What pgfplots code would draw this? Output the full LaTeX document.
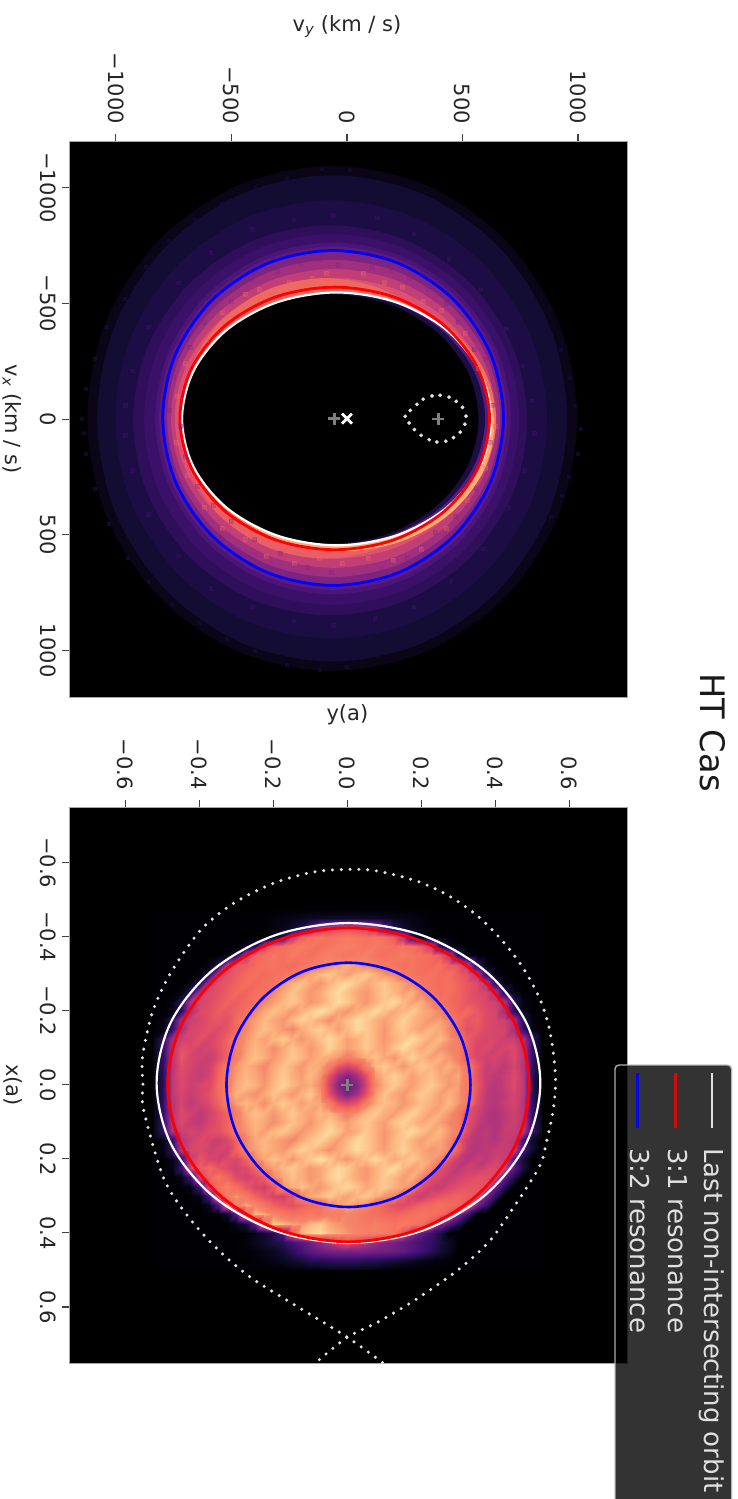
\documentclass[border=0pt]{standalone}
\usepackage{pgfplots}
\pgfplotsset{compat=1.18}
\usepackage{pgfplotstable}
\usepackage{fontspec}
\setmainfont{DejaVu Sans}
\definecolor{m0}{HTML}{0A0618}
\definecolor{m1}{HTML}{130C33}
\definecolor{m15}{HTML}{1C0E44}
\definecolor{m2}{HTML}{2F0F5A}
\definecolor{m25}{HTML}{3A1068}
\definecolor{m3}{HTML}{4A1478}
\definecolor{m35}{HTML}{5C1A7C}
\definecolor{m4}{HTML}{7D2481}
\definecolor{m5}{HTML}{A0307E}
\definecolor{m6}{HTML}{C23F76}
\definecolor{m7}{HTML}{DC5070}
\definecolor{cora}{HTML}{EE6A60}
\definecolor{corb}{HTML}{EA5F66}
\definecolor{corc}{HTML}{F6705C}
\definecolor{peach}{HTML}{FDAE78}
\definecolor{lg}{HTML}{E4E4E4}
\newcommand{\tf}{\fontsize{21bp}{25bp}\selectfont}
\pgfplotstableread{
x y
-380 -560
-250 -590
-150 -610
-90 -630
0 -600
70 -630
160 -590
240 -570
330 -510
410 -470
510 -370
570 -220
610 -150
640 30
600 210
520 350
430 470
320 560
200 610
90 600
-20 620
-120 600
-230 620
-350 590
-440 520
-540 470
-620 380
-690 240
-740 100
-735 -100
-700 -240
-610 -340
-540 -460
-440 -540
}\bandlight
\pgfplotstableread{
x y
-300 -640
-200 -670
-120 -690
-40 -665
40 -700
110 -655
190 -640
270 -610
350 -560
430 -500
480 -420
550 -300
600 -260
630 -60
620 100
560 300
470 420
380 490
260 600
150 650
30 680
-70 660
-170 640
-290 580
-400 520
-500 440
-580 370
-650 290
-700 160
-720 30
-770 -40
-750 -180
-680 -310
-620 -420
-500 -510
-410 -600
}\banddark
% the binned map of the lower panel, one \R per row, values read in percent of the colour scale
\makeatletter
\newcount\Rj \Rj=0
\newcount\Rc
\newcount\Rn
\newcount\Rs
\newdimen\Rx
\newdimen\Ry
\def\Hdata{}
\def\Hpoint#1{%
  \Rx=.025pt \multiply\Rx by \numexpr\Rc-21\relax
  \xdef\Hdata{\unexpanded\expandafter{\Hdata}(\strip@pt\Rx,\strip@pt\Ry)[#1]}%
  \global\advance\Rc by 1 }
\def\R#1{%
  \Rn=0 \@for\@v:=#1\do{\advance\Rn by 1 }%
  \Rs=\numexpr(43-\Rn)/2\relax
  \Ry=.025pt \multiply\Ry by \numexpr\Rj-19\relax
  \Rc=0
  \loop\ifnum\Rc<\Rs \Hpoint{0}\repeat
  \@for\@v:=#1\do{\ifnum\Rc<43 \Hpoint{\@v}\fi}%
  \loop\ifnum\Rc<43 \Hpoint{0}\repeat
  \global\advance\Rj by 1 }
\makeatother
\R{0}
\R{2,3,4,5,6,7,7,8,8,8,7,7,6,5,4,3,2}
\R{2,4,8,14,30,48,56,60,62,60,56,48,30,14,8,4,2}
\R{4,16,50,66,72,74,72,74,76,74,72,74,72,66,50,16,4}
\R{4,16,54,66,72,74,76,74,72,74,76,78,76,74,76,74,72,74,72,66,54,16,4}
\R{3,16,52,68,72,74,72,76,74,72,76,78,76,74,76,78,74,72,74,76,74,72,70,66,52,16,3}
\R{3,16,52,64,66,70,72,74,72,70,74,76,78,80,83,85,82,80,78,76,74,72,74,72,70,72,66,64,52,16,3}
\R{3,16,50,62,66,70,72,70,72,74,76,80,84,86,88,85,83,86,88,85,82,80,76,74,72,74,70,72,66,62,50,16,3}
\R{3,16,50,62,64,68,72,70,72,74,82,85,87,84,82,85,88,90,87,84,86,88,85,83,80,74,72,70,72,68,64,60,50,16,3}
\R{3,16,48,60,62,66,70,68,72,74,80,84,87,85,82,84,88,90,87,84,82,85,88,86,83,85,80,74,70,72,68,64,60,58,48,16,3}
\R{3,16,48,58,60,64,68,66,70,74,80,83,86,88,85,82,84,87,90,88,84,82,85,88,90,86,83,85,80,74,70,68,64,62,58,56,48,16,3}
\R{3,16,46,60,62,66,64,68,72,80,84,87,85,82,85,88,91,88,84,82,85,87,90,87,84,86,88,85,83,80,72,68,70,64,60,58,46,16,3}
\R{3,16,46,56,58,62,64,62,70,80,83,86,84,82,86,89,87,84,81,84,87,90,88,85,83,86,89,86,84,82,83,80,70,64,66,60,58,56,46,16,3}
\R{3,18,46,58,60,62,60,64,70,80,84,87,85,82,80,84,87,89,86,83,86,90,88,85,82,86,88,85,83,86,84,80,70,62,64,60,58,58,46,18,3}
\R{3,18,46,56,58,62,58,62,68,78,82,85,83,86,88,85,82,84,87,90,87,83,85,88,85,82,85,88,90,87,84,86,82,78,66,60,58,58,56,56,46,18,3}
\R{3,18,50,62,60,56,58,62,68,78,83,86,84,81,84,87,85,82,85,89,86,83,85,88,85,83,87,90,87,84,86,82,80,78,66,58,60,56,58,60,50,18,3}
\R{3,18,50,64,58,56,54,60,68,78,84,87,85,82,85,88,86,83,85,84,82,78,82,85,87,84,82,86,89,86,83,85,82,78,66,58,56,58,54,60,50,18,3}
\R{3,18,50,62,58,54,56,66,76,82,85,83,80,84,87,85,82,85,84,78,64,58,64,78,86,88,85,82,85,88,86,83,85,82,76,64,54,56,52,58,50,18,3}
\R{3,16,52,60,56,54,58,68,78,83,86,84,81,85,88,85,83,86,82,62,46,36,46,62,82,86,89,86,83,85,87,84,82,84,76,62,54,52,54,60,52,16,3}
\R{3,16,52,60,56,58,60,70,78,84,87,85,82,86,89,86,83,85,80,58,38,30,38,58,80,85,88,85,83,86,88,85,82,83,76,64,54,50,54,60,52,16,3}
\R{3,16,52,58,54,58,62,70,80,85,83,81,84,87,85,82,85,88,82,62,46,36,46,62,82,87,84,82,85,88,86,83,85,82,76,62,52,50,52,58,52,16,3}
\R{3,18,50,58,52,56,60,68,78,83,86,84,81,85,88,86,83,85,84,78,64,58,64,78,84,87,85,82,84,87,85,83,86,82,76,60,52,50,54,58,50,18,4}
\R{3,18,50,60,56,52,56,62,68,78,84,87,85,82,85,88,85,83,86,85,82,78,82,86,88,85,83,86,89,86,83,85,82,76,62,56,50,48,52,56,50,18,5}
\R{3,18,50,60,54,52,58,62,68,78,83,86,84,81,84,87,85,82,85,88,85,83,86,88,85,83,87,89,86,84,86,83,80,76,62,54,50,48,52,56,50,18,6}
\R{3,18,48,56,58,56,60,62,68,78,82,85,83,86,88,85,82,84,87,90,87,83,85,88,85,82,85,88,90,87,84,86,82,78,60,50,52,48,54,54,50,20,8}
\R{3,18,50,56,60,58,54,58,68,80,84,86,84,82,80,84,87,89,86,83,86,90,88,85,82,86,88,85,83,85,84,80,66,54,50,52,50,54,52,22,8}
\R{3,18,50,58,60,56,58,56,68,80,83,86,84,82,86,89,87,84,81,84,87,90,88,85,83,86,89,86,84,82,83,80,66,52,50,52,54,54,52,24,8}
\R{3,18,54,64,58,56,60,58,68,80,84,87,85,82,85,88,91,88,84,82,85,87,90,87,84,86,88,85,83,80,64,54,50,54,52,56,54,26,10}
\R{3,20,56,66,70,64,60,56,60,68,80,83,86,88,85,82,84,87,90,88,84,82,85,88,90,86,83,85,80,62,56,52,56,54,58,60,56,28,12}
\R{3,20,58,68,74,68,60,56,60,66,80,84,87,85,82,84,88,90,87,84,82,85,88,86,83,85,80,62,58,54,56,60,62,62,58,30,14}
\R{3,22,62,72,78,72,64,58,56,64,82,85,87,84,82,85,88,90,87,84,86,88,85,83,80,62,56,54,58,62,64,64,60,32,16}
\R{4,24,66,76,82,76,68,62,58,56,64,80,84,86,88,85,83,86,88,85,82,80,66,58,54,60,64,66,68,66,62,34,18}
\R{5,26,68,78,84,80,74,68,64,62,66,70,72,80,83,85,82,80,72,68,62,60,64,68,70,72,70,68,64,36,20}
\R{6,28,70,86,84,80,76,72,74,76,74,78,76,80,78,74,72,70,68,70,72,74,72,70,64,38,22}
\R{4,10,30,72,88,86,84,82,86,88,84,82,80,78,76,78,76,74,76,74,72,62,38,26,14}
\R{4,8,14,26,66,86,88,90,86,84,82,80,78,78,76,74,62,42,30,20,12}
\R{2,5,8,12,16,22,28,34,40,48,56,62,56,50,44,38,34,30,26,22,18,12,6}
\R{1,2,4,6,10,16,22,28,32,34,36,36,36,36,34,34,32,30,26,22,16,10,6}
\R{1,2,3,5,8,10,14,14,16,16,16,16,14,14,12,10,8,6,4,2,1}
\R{1,2,3,4,4,4,3,2,1}
\pgfplotsset{
  panel/.style={
    at={#1}, anchor=north west, scale only axis,
    width=558bp, height=556bp, y dir=reverse,
    axis background/.style={fill=black},
    xtick pos=upper, ytick pos=lower,
    tick align=outside, major tick length=7bp,
    tick style={color=black!75,line width=1.1bp},
    axis line style={draw=gray!70,line width=1bp},
    xticklabel style={rotate=-90,anchor=east,font=\tf,text=black!85,inner ysep=2bp,inner xsep=10bp},
    yticklabel style={rotate=-90,anchor=north,font=\tf,text=black!85,inner xsep=2bp,inner ysep=6bp},
    xlabel style={font=\tf,anchor=center,text=black!85},
    ylabel style={font=\tf,anchor=center,rotate=180,text=black!85},
    scaled ticks=false,
  },
  ar/.style={fill=#1,draw=none,smooth cycle,tension=0.55,forget plot,mark=none},
  cu/.style={draw=#1,fill=none,smooth cycle,tension=0.55,forget plot,mark=none},
}
\begin{document}
\begin{tikzpicture}
\path[use as bounding box] (0,0) rectangle (738bp,-1499bp);
\begin{axis}[panel={(69bp,-141bp)},
  xmin=-1203,xmax=1212,ymin=-1201,ymax=1200,
  xtick={-1000,-500,0,500,1000},xticklabels={−1000,−500,0,500,1000},
  ytick={-1000,-500,0,500,1000},yticklabels={−1000,−500,0,500,1000},
  xlabel={v\textsubscript{\itshape y} (km / s)},
  ylabel={v\textsubscript{\itshape x} (km / s)},
  xlabel style={at={(axis cs:0,-1695)}},
  ylabel style={at={(axis cs:-1449,0)}},
]
\addplot[ar=m0] coordinates {(996,-3)(915,414)(685,768)(342,1004)(-64,1087)(-470,1004)(-813,768)(-1043,414)(-1124,-3)(-1043,-420)(-813,-774)(-470,-1010)(-64,-1093)(342,-1010)(685,-774)(915,-420)};
\addplot[ar=m1] coordinates {(953,-3)(876,399)(655,739)(326,967)(-64,1047)(-454,967)(-783,739)(-1004,399)(-1081,-3)(-1004,-405)(-783,-745)(-454,-973)(-64,-1053)(326,-973)(655,-745)(876,-405)};
\addplot[only marks,mark=square*,mark size=1.5bp,color=m1,opacity=.8,forget plot] coordinates {(1010,40)(985,-60)(1000,150)(960,250)(965,-180)(930,330)(925,-300)(880,420)(860,-420)(800,530)(810,-500)(740,620)(700,-620)(640,700)(640,-690)(560,770)(540,-780)(470,840)(470,-840)(360,900)(370,-890)(250,960)(250,-960)(120,1000)(140,-1000)(0,1070)(10,-1075)(-120,1080)(-110,-1080)(-260,1060)(-260,-1040)(-400,1000)(-400,-1000)(-520,950)(-540,-930)(-640,880)(-660,-860)(-760,800)(-770,-770)(-860,700)(-870,-660)(-950,600)(-960,-520)(-1030,450)(-1040,-400)(-1090,300)(-1090,-260)(-1130,150)(-1130,-130)(-1150,0)(-1140,60)};
\addplot[ar=m15] coordinates {(866,1)(795,363)(592,670)(290,875)(-68,947)(-427,875)(-730,670)(-932,363)(-1003,1)(-932,-361)(-730,-668)(-427,-873)(-68,-945)(290,-873)(592,-668)(795,-361)};
\addplot[ar=m2] coordinates {(780,5)(715,327)(530,600)(254,783)(-73,847)(-400,783)(-676,600)(-861,327)(-926,5)(-861,-317)(-676,-590)(-400,-773)(-73,-837)(254,-773)(530,-590)(715,-317)};
\addplot[only marks,mark=square*,mark size=1.7bp,color=m2,opacity=.8,forget plot] coordinates {(810,60)(800,-80)(770,220)(760,-230)(700,380)(690,-390)(590,560)(580,-560)(450,700)(440,-690)(290,810)(290,-800)(120,860)(130,-870)(-60,890)(-60,-880)(-230,870)(-230,-860)(-410,810)(-410,-820)(-590,730)(-590,-720)(-730,590)(-730,-590)(-860,410)(-860,-400)(-930,220)(-930,-210)(-960,70)(-960,-60)};
\addplot[ar=m25] coordinates {(745,1)(683,307)(507,567)(244,741)(-66,802)(-377,741)(-640,567)(-816,307)(-878,1)(-816,-305)(-640,-565)(-377,-739)(-66,-800)(244,-739)(507,-565)(683,-305)};
\addplot[ar=m3] coordinates {(710,-3)(651,288)(484,534)(235,699)(-60,757)(-355,699)(-604,534)(-771,288)(-830,-3)(-771,-294)(-604,-540)(-355,-705)(-60,-763)(235,-705)(484,-540)(651,-294)};
\addplot[ar=m35] coordinates {(693,-4)(636,280)(472,520)(228,681)(-60,737)(-348,681)(-592,520)(-756,280)(-813,-4)(-756,-288)(-592,-528)(-348,-689)(-60,-745)(228,-689)(472,-528)(636,-288)};
\addplot[ar=m4] coordinates {(677,-5)(621,272)(461,506)(222,663)(-60,718)(-342,663)(-581,506)(-741,272)(-797,-5)(-741,-282)(-581,-516)(-342,-673)(-60,-728)(222,-673)(461,-516)(621,-282)};
\addplot[ar=m5] coordinates {(663,-3)(608,259)(452,481)(218,630)(-58,682)(-334,630)(-568,481)(-724,259)(-779,-3)(-724,-265)(-568,-487)(-334,-636)(-58,-688)(218,-636)(452,-487)(608,-265)};
\addplot[ar=m6] coordinates {(646,-3)(592,244)(440,453)(212,593)(-58,642)(-328,593)(-556,453)(-708,244)(-762,-3)(-708,-250)(-556,-459)(-328,-599)(-58,-648)(212,-599)(440,-459)(592,-250)};
\addplot[ar=m7] coordinates {(629,-3)(577,229)(428,425)(205,557)(-58,603)(-321,557)(-544,425)(-693,229)(-745,-3)(-693,-235)(-544,-431)(-321,-563)(-58,-609)(205,-563)(428,-431)(577,-235)};
\addplot[ar=cora] coordinates {(525,-23)(478,201)(344,391)(143,518)(-94,563)(-331,518)(-532,391)(-666,201)(-713,-23)(-666,-247)(-532,-437)(-331,-564)(-94,-609)(143,-564)(344,-437)(478,-247)};
\addplot[ar=corb] coordinates {(525,27)(478,247)(344,434)(143,558)(-94,602)(-331,558)(-532,434)(-666,247)(-713,27)(-666,-193)(-532,-380)(-331,-504)(-94,-548)(143,-504)(344,-380)(478,-193)};
\addplot[ar=corc] coordinates {(646,5)(594,220)(446,402)(224,524)(-38,567)(-300,524)(-522,402)(-670,220)(-722,5)(-670,-210)(-522,-392)(-300,-514)(-38,-557)(224,-514)(446,-392)(594,-210)};
\addplot[ar=peach] coordinates {(637,22)(587,232)(444,410)(231,529)(-21,571)(-273,529)(-486,410)(-629,232)(-679,22)(-629,-188)(-486,-366)(-273,-485)(-21,-527)(231,-485)(444,-366)(587,-188)};
\addplot[only marks,mark=square*,mark size=2bp,color=cora,opacity=.3,forget plot] table {\bandlight};
\addplot[only marks,mark=square*,mark size=2bp,color=m4,opacity=.3,forget plot] table {\banddark};
\addplot[ar=m35] coordinates {(624,-1)(573,208)(428,385)(211,503)(-45,545)(-301,503)(-518,385)(-663,208)(-714,-1)(-663,-210)(-518,-387)(-301,-505)(-45,-547)(211,-505)(428,-387)(573,-210)};
\addplot[ar=m15] coordinates {(598,-3)(548,205)(406,382)(193,500)(-58,541)(-309,500)(-522,382)(-664,205)(-714,-3)(-664,-211)(-522,-388)(-309,-506)(-58,-547)(193,-506)(406,-388)(548,-211)};
\addplot[ar=black] coordinates {(569,-1)(521,205)(382,379)(176,496)(-68,537)(-312,496)(-518,379)(-657,205)(-705,-1)(-657,-207)(-518,-381)(-312,-498)(-68,-539)(176,-498)(382,-381)(521,-207)};
\addplot[cu=white,line width=2.2bp] coordinates {(624,-1)(573,208)(428,385)(211,503)(-45,545)(-301,503)(-518,385)(-663,208)(-714,-1)(-663,-210)(-518,-387)(-301,-505)(-45,-547)(211,-505)(428,-387)(573,-210)};
\addplot[cu=red,line width=2.8bp] coordinates {(617,-3)(566,214)(421,398)(204,521)(-53,564)(-310,521)(-527,398)(-672,214)(-723,-3)(-672,-220)(-527,-404)(-310,-527)(-53,-570)(204,-527)(421,-404)(566,-220)};
\addplot[cu=blue,line width=2.8bp] coordinates {(677,-5)(621,272)(461,506)(222,663)(-60,718)(-342,663)(-581,506)(-741,272)(-797,-5)(-741,-282)(-581,-516)(-342,-673)(-60,-728)(222,-673)(461,-516)(621,-282)};
\addplot[only marks,mark=*,mark size=1.7bp,color=lg,forget plot] coordinates {(252,-12)(274,-38)(303,-64)(330,-86)(368,-100)(403,-103)(442,-95)(473,-77)(500,-51)(515,-13)(510,22)(490,56)(461,80)(428,95)(389,99)(356,89)(321,70)(292,45)(269,17)};
\addplot[only marks,mark=+,mark size=6bp,color=gray,line width=2.4bp,forget plot] coordinates {(-54,-2)(396,0)};
\addplot[only marks,mark=x,mark size=7bp,color=white,line width=2.8bp,forget plot] coordinates {(0,-2)};
\end{axis}
\begin{axis}[panel={(69bp,-807bp)},
  xmin=-0.753,xmax=0.7565,ymin=-0.7505,ymax=0.7514,
  xtick={-0.6,-0.4,-0.2,0,0.2,0.4,0.6},xticklabels={−0.6,−0.4,−0.2,0.0,0.2,0.4,0.6},
  ytick={-0.6,-0.4,-0.2,0,0.2,0.4,0.6},yticklabels={−0.6,−0.4,−0.2,0.0,0.2,0.4,0.6},
  xlabel={y(a)},ylabel={x(a)},
  xlabel style={at={(axis cs:0,-0.999)}},
  ylabel style={at={(axis cs:-0.905,0)}},
  colormap={magmastretch}{rgb255(0)=(0,0,4) rgb255(10)=(20,14,54) rgb255(20)=(59,15,112) rgb255(30)=(100,26,128) rgb255(40)=(140,41,129) rgb255(50)=(181,54,122) rgb255(60)=(222,73,104) rgb255(70)=(244,106,92) rgb255(76)=(247,122,98) rgb255(80)=(243,134,104) rgb255(85)=(252,176,124) rgb255(90)=(254,218,158) rgb255(100)=(252,253,191)},
  point meta min=0,point meta max=100,
]
\edef\Hplot{\noexpand\addplot[surf,shader=interp,mesh/rows=40,mesh/cols=43,point meta=explicit,forget plot] coordinates {\unexpanded\expandafter{\Hdata}};}
\Hplot
\addplot[cu=white,line width=2.2bp] coordinates {(.522,-.005)(.483,.160)(.370,.300)(.202,.394)(.003,.427)(-.196,.394)(-.364,.300)(-.477,.160)(-.516,-.005)(-.477,-.170)(-.364,-.310)(-.196,-.404)(.003,-.437)(.202,-.404)(.370,-.310)(.483,-.170)};
\addplot[cu=red,line width=2.8bp] coordinates {(.492,0)(.455,.162)(.349,.300)(.190,.392)(.003,.424)(-.184,.392)(-.343,.300)(-.449,.162)(-.486,0)(-.449,-.162)(-.343,-.300)(-.184,-.392)(.003,-.424)(.190,-.392)(.349,-.300)(.455,-.162)};
\addplot[cu=blue,line width=2.6bp] coordinates {(.333,0)(.308,.126)(.236,.233)(.129,.305)(.003,.33)(-.123,.305)(-.230,.233)(-.302,.126)(-.327,0)(-.302,-.126)(-.230,-.233)(-.123,-.305)(.003,-.33)(.129,-.305)(.236,-.233)(.308,-.126)};
\addplot[draw=lg,smooth,tension=.5,line width=3.4bp,line cap=round,dash pattern=on 0pt off 8.8bp,forget plot,mark=none] coordinates {(.095,.75)(0,.682)(-.127,.604)(-.259,.522)(-.348,.447)(-.429,.358)(-.497,.252)(-.551,.068)(-.553,0)(-.554,-.076)(-.527,-.197)(-.478,-.302)(-.397,-.418)(-.307,-.491)(-.199,-.545)(-.091,-.575)(0,-.582)(.079,-.578)(.192,-.549)(.279,-.508)(.355,-.454)(.422,-.386)(.476,-.315)(.522,-.229)(.549,-.140)(.563,-.021)(.557,.068)(.538,.157)(.519,.222)(.441,.344)(.382,.425)(.298,.501)(.182,.582)(.082,.641)(0,.682)(-.085,.75)};
\addplot[only marks,mark=+,mark size=6bp,color=gray,line width=2.4bp,forget plot] coordinates {(0,0)};
\end{axis}
% legend
\path[fill=black,fill opacity=.8,draw=lightgray,draw opacity=.9,line width=1.4bp,rounded corners=4bp] (615bp,-1065bp) rectangle (731.7bp,-1520bp);
\draw[white,line width=2.8bp,draw opacity=.85] (712bp,-1073bp) -- (712bp,-1128bp);
\draw[red,line width=2.8bp,draw opacity=.8] (675.7bp,-1073bp) -- (675.7bp,-1128bp);
\draw[blue,line width=2.8bp,draw opacity=.85] (637.7bp,-1073bp) -- (637.7bp,-1128bp);
\node[rotate=-90,anchor=base west,inner sep=0pt,text=white!88!black,font=\fontsize{26bp}{30bp}\selectfont] at (704bp,-1148bp) {Last non-intersecting orbit};
\node[rotate=-90,anchor=base west,inner sep=0pt,text=white!88!black,font=\fontsize{26bp}{30bp}\selectfont] at (668bp,-1148bp) {3:1 resonance};
\node[rotate=-90,anchor=base west,inner sep=0pt,text=white!88!black,font=\fontsize{26bp}{30bp}\selectfont] at (630.5bp,-1148bp) {3:2 resonance};
\node[rotate=-90,anchor=base west,inner sep=0pt,text=black!90,font=\fontsize{33.7bp}{40bp}\selectfont] at (700bp,-673bp) {HT Cas};
\end{tikzpicture}
\end{document}
